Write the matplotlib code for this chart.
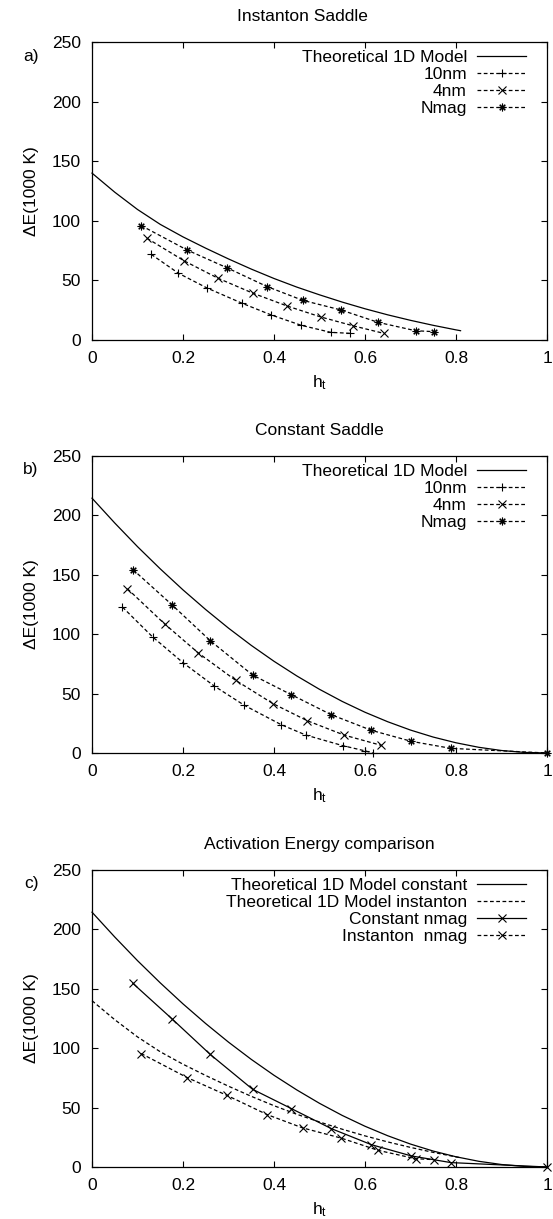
import matplotlib
matplotlib.use("Agg")
import matplotlib.pyplot as plt

plt.rcParams['font.family'] = ['Liberation Sans', 'DejaVu Sans']
plt.rcParams['mathtext.fontset'] = 'custom'
plt.rcParams['mathtext.rm'] = 'Liberation Sans'
plt.rcParams['mathtext.it'] = 'Liberation Sans'

# ---------------- data ----------------
# theoretical 1D model, instanton saddle
h_theory_inst = [0.0, 0.05, 0.1, 0.15, 0.2, 0.25, 0.3, 0.35, 0.4, 0.45, 0.5,
                 0.55, 0.6, 0.65, 0.7, 0.75, 0.8, 0.81]
E_theory_inst = [140.0, 124.0, 109.5, 97.0, 86.5, 77.0, 68.0, 59.5, 51.6, 44.4,
                 37.9, 31.8, 26.2, 21.1, 16.5, 12.3, 8.5, 7.8]
# theoretical 1D model, constant saddle
h_theory_const = [0.0, 0.05, 0.1, 0.15, 0.2, 0.25, 0.3, 0.35, 0.4, 0.45, 0.5,
                  0.55, 0.6, 0.65, 0.7, 0.75, 0.8, 0.85, 0.9, 0.95, 1.0]
E_theory_const = [214.5, 193.6, 173.7, 155.0, 137.3, 120.7, 105.1, 90.6, 77.2,
                  64.9, 53.6, 43.4, 34.3, 26.3, 19.3, 13.4, 8.6, 4.8, 2.1, 0.5, 0.0]

# panel a) instanton saddle
h_a_10nm = [0.130, 0.190, 0.253, 0.330, 0.394, 0.460, 0.525, 0.568]
E_a_10nm = [71.9, 56.0, 43.6, 30.8, 21.0, 12.3, 6.4, 5.6]
h_a_4nm = [0.121, 0.203, 0.277, 0.354, 0.429, 0.503, 0.573, 0.641]
E_a_4nm = [85.3, 66.3, 51.8, 39.2, 28.5, 19.3, 12.0, 5.6]
h_a_nmag = [0.108, 0.209, 0.296, 0.385, 0.463, 0.547, 0.629, 0.711, 0.751]
E_a_nmag = [96.0, 75.5, 60.7, 44.8, 33.3, 25.2, 14.8, 7.8, 7.0]

# panel b) constant saddle
h_b_10nm = [0.067, 0.133, 0.201, 0.269, 0.335, 0.416, 0.470, 0.551, 0.601, 0.617]
E_b_10nm = [122.8, 97.8, 75.7, 56.3, 40.1, 23.8, 15.1, 6.2, 1.7, 0.0]
h_b_4nm = [0.078, 0.160, 0.234, 0.316, 0.398, 0.473, 0.554, 0.636]
E_b_4nm = [138.2, 108.5, 84.1, 61.1, 41.5, 27.2, 15.1, 6.4]
h_b_nmag = [0.090, 0.175, 0.260, 0.353, 0.438, 0.526, 0.614, 0.702, 0.789, 1.0]
E_b_nmag = [154.4, 125.0, 94.5, 65.6, 49.1, 32.2, 19.1, 9.8, 3.9, 0.0]

# panel c) comparison
h_c_const = [0.090, 0.175, 0.260, 0.353, 0.438, 0.526, 0.614, 0.702, 0.789, 1.0]
E_c_const = [154.5, 125.0, 94.7, 65.4, 49.2, 32.3, 18.8, 9.3, 3.7, 0.0]
h_c_inst = [0.108, 0.209, 0.296, 0.385, 0.463, 0.547, 0.629, 0.711, 0.751]
E_c_inst = [95.5, 75.3, 60.4, 44.1, 32.9, 24.4, 14.0, 7.0, 6.2]

x_ticks = [0, 0.2, 0.4, 0.6, 0.8, 1.0]
x_ticklabels = ['0', '0.2', '0.4', '0.6', '0.8', '1']
y_ticks = [0, 50, 100, 150, 200, 250]

titles = ['Instanton Saddle', 'Constant Saddle', 'Activation Energy comparison']
panel_labels = ['a)', 'b)', 'c)']

# ---------------- figure ----------------
W, H = 553, 1219
fig = plt.figure(figsize=(W / 100, H / 100), dpi=100)

FS = 12.5
LW = 0.9
DASH = (0, (3, 2))
ASTER = (8, 2, 0)
MS = 5.5

ax_px = [(42, 340), (456, 753), (870, 1167)]
left_px, right_px = 92, 547
axes = []
for top, bot in ax_px:
    ax = fig.add_axes([left_px / W, 1 - bot / H, (right_px - left_px) / W, (bot - top) / H])
    axes.append(ax)

title_x = [0.4615, 0.5, 0.5]
for i, ax in enumerate(axes):
    ax.set_xlim(0, 1)
    ax.set_ylim(0, 250)
    ax.set_xticks(x_ticks)
    ax.set_xticklabels(x_ticklabels)
    ax.set_yticks(y_ticks)
    ax.tick_params(direction='in', length=4, width=0.8, top=True, right=True,
                   labelsize=FS, pad=8)
    for s in ax.spines.values():
        s.set_linewidth(0.9)
    ax.set_xlabel(r'h$_\mathrm{t}$', fontsize=FS, labelpad=5)
    ax.set_ylabel('ΔE(1000 K)', fontsize=FS, labelpad=9)
    ax.text(title_x[i], 1.086, titles[i], transform=ax.transAxes,
            ha='center', va='center', fontsize=FS)
    ax.text(-0.134, 0.953, panel_labels[i], transform=ax.transAxes,
            ha='center', va='center', fontsize=FS)

def mk(ax, x, y, label, ls, marker=None):
    ax.plot(x, y, color='black', lw=LW, ls=ls, marker=marker, ms=MS, mew=0.8,
            label=label, clip_on=False)

# panel a
ax = axes[0]
mk(ax, h_theory_inst, E_theory_inst, 'Theoretical 1D Model', '-')
mk(ax, h_a_10nm, E_a_10nm, '10nm', DASH, '+')
mk(ax, h_a_4nm, E_a_4nm, '4nm', DASH, 'x')
mk(ax, h_a_nmag, E_a_nmag, 'Nmag', DASH, ASTER)

# panel b
ax = axes[1]
mk(ax, h_theory_const, E_theory_const, 'Theoretical 1D Model', '-')
mk(ax, h_b_10nm, E_b_10nm, '10nm', DASH, '+')
mk(ax, h_b_4nm, E_b_4nm, '4nm', DASH, 'x')
mk(ax, h_b_nmag, E_b_nmag, 'Nmag', DASH, ASTER)

# panel c
ax = axes[2]
mk(ax, h_theory_const, E_theory_const, 'Theoretical 1D Model constant', '-')
mk(ax, h_theory_inst, E_theory_inst, 'Theoretical 1D Model instanton', DASH)
mk(ax, h_c_const, E_c_const, 'Constant nmag', '-', 'x')
mk(ax, h_c_inst, E_c_inst, 'Instanton  nmag', DASH, 'x')

for ax in axes:
    ax.legend(loc='upper right', bbox_to_anchor=(1 - 21 / 455, 1 - 8 / 298),
              frameon=False, markerfirst=False, numpoints=1, fontsize=FS,
              handlelength=2.8, handletextpad=0.6, labelspacing=0.11,
              borderaxespad=0, borderpad=0)

fig.savefig('out.png', dpi=100)
